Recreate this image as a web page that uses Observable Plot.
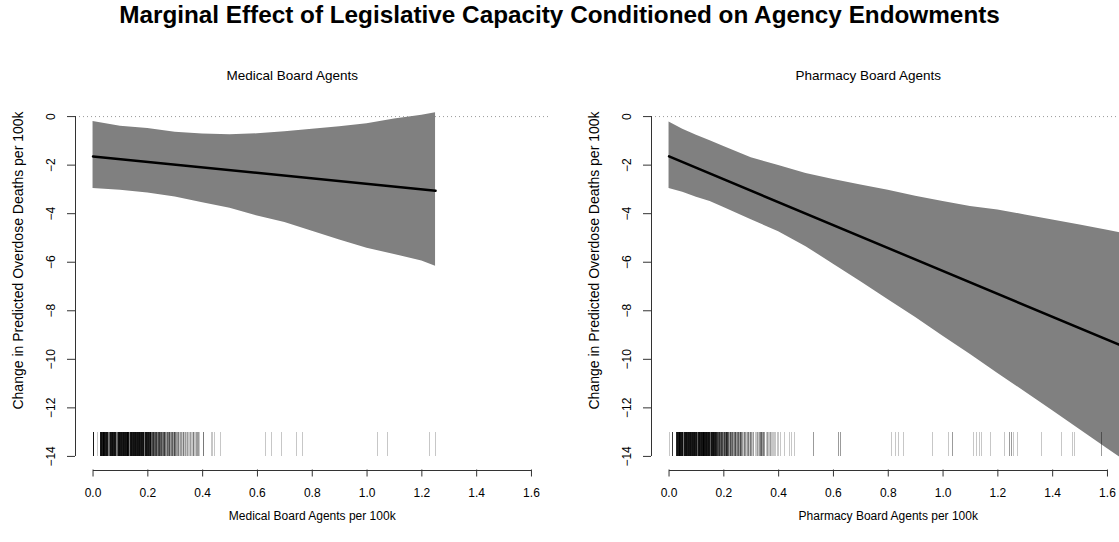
<!DOCTYPE html>
<html>
<head>
<meta charset="utf-8">
<script src="https://cdn.jsdelivr.net/npm/d3@7"></script>
<script src="https://cdn.jsdelivr.net/npm/@observablehq/plot@0.6"></script>
<style>
  html, body { margin: 0; padding: 0; width: 1119px; height: 542px; overflow: hidden; background: white; }
  #title { position: absolute; left: 0; top: 0; width: 1119px; height: 40px; text-align: center;
           font: bold 24.3px "Liberation Sans", Arial, sans-serif; line-height: 30px; color: black; white-space: nowrap; }
  .panel { position: absolute; top: 40px; width: 576px; height: 502px; }
  .panel svg { max-width: none !important; }
</style>
</head>
<body>
<div id="title"></div>
<div id="left" class="panel" style="left:0px"></div>
<div id="right" class="panel" style="left:576px"></div>
<script>
// ---------- text ----------
const mainTitle = "Marginal Effect of Legislative Capacity Conditioned on Agency Endowments";
const panelTitles = ["Medical Board Agents", "Pharmacy Board Agents"];
const xLabels = ["Medical Board Agents per 100k", "Pharmacy Board Agents per 100k"];
const yLabel = "Change in Predicted Overdose Deaths per 100k";

// ---------- ticks ----------
const xTicks = [0, 0.2, 0.4, 0.6, 0.8, 1.0, 1.2, 1.4, 1.6];
const yTicks = [0, -2, -4, -6, -8, -10, -12, -14];
const xDomain = [-0.064, 1.664];
const yDomain = [-14.56, 0.56];
const rugRange = [-13, -14];

// ---------- Medical board: confidence band and estimate ----------
const medX  = [0, 0.1, 0.2, 0.3, 0.4, 0.5, 0.6, 0.7, 0.8, 0.9, 1.0, 1.1, 1.2, 1.25];
const medHi = [-0.20, -0.40, -0.49, -0.64, -0.72, -0.75, -0.71, -0.62, -0.52, -0.42, -0.30, -0.10, 0.06, 0.16];
const medLo = [-2.96, -3.03, -3.15, -3.31, -3.55, -3.78, -4.10, -4.36, -4.72, -5.08, -5.42, -5.68, -5.95, -6.17];
const medLineX = [0, 1.25];
const medLineY = [-1.64, -3.06];

// ---------- Pharmacy board: confidence band and estimate ----------
const phX  = [0, 0.05, 0.1, 0.15, 0.2, 0.3, 0.4, 0.5, 0.6, 0.7, 0.8, 0.9, 1.0, 1.1, 1.2, 1.3, 1.4, 1.5, 1.6, 1.664];
const phHi = [-0.22, -0.52, -0.77, -1.00, -1.23, -1.70, -2.02, -2.34, -2.59, -2.82, -3.03, -3.28, -3.50, -3.70, -3.85, -4.05, -4.26, -4.47, -4.68, -4.83];
const phLo = [-2.96, -3.12, -3.32, -3.50, -3.75, -4.25, -4.74, -5.36, -6.08, -6.80, -7.55, -8.28, -9.05, -9.80, -10.58, -11.35, -12.12, -12.90, -13.68, -14.18];
const phLineX = [0, 1.664];
const phLineY = [-1.64, -9.5];

// ---------- rug: [value, number of observations] ----------
const medRug = [
  [0,10],[0.015,1],
  [0.026,10],[0.0295,12],[0.033,9],[0.0365,11],[0.040,10],[0.0435,12],[0.047,9],[0.0505,11],[0.054,10],
  [0.0575,3],[0.061,4],[0.0645,11],[0.068,10],[0.0715,12],[0.075,9],[0.0785,11],[0.082,10],[0.0855,3],
  [0.089,4],[0.0925,11],[0.096,12],[0.0995,10],[0.103,11],[0.1065,9],[0.110,12],[0.1135,10],[0.117,11],
  [0.1205,10],[0.124,12],[0.1275,9],[0.131,11],[0.1345,3],[0.138,10],[0.1415,12],[0.145,9],[0.1485,11],
  [0.152,10],[0.1555,12],[0.159,9],[0.1625,11],[0.166,10],[0.1695,12],[0.173,9],[0.1765,11],[0.180,10],
  [0.1835,12],[0.187,3],[0.1905,10],[0.194,11],[0.1975,9],[0.201,10],[0.2045,8],[0.208,7],
  [0.2115,6],[0.215,4],[0.2185,5],[0.222,7],[0.2255,4],[0.229,5],[0.2325,6],[0.236,3],[0.2395,5],[0.243,6],
  [0.2465,4],[0.250,5],[0.2535,3],[0.257,4],[0.2605,6],[0.264,3],[0.2675,2],[0.271,4],[0.2745,3],[0.278,5],
  [0.2815,2],[0.285,3],[0.2885,4],[0.292,2],[0.2955,3],[0.299,2],[0.3025,3],[0.306,2],[0.3095,2],[0.313,3],
  [0.3165,1],[0.320,2],[0.3235,2],[0.327,1],[0.3305,3],[0.334,1],[0.3375,2],[0.341,1],[0.3445,2],[0.348,1],
  [0.3515,1],[0.355,2],[0.3585,1],[0.362,1],[0.3655,3],[0.369,1],[0.3725,1],[0.376,2],[0.3795,1],[0.383,1],
  [0.3865,2],[0.390,1],
  [0.402,3],[0.432,1],[0.436,1],[0.445,1],[0.464,1],[0.631,1],[0.653,1],[0.688,1],[0.741,1],[0.764,1],
  [1.039,1],[1.076,1],[1.228,1],[1.249,1]
];
const phRug = [
  [0,1],[0.013,6],
  [0.026,8],[0.0295,11],[0.033,10],[0.0365,12],[0.040,9],[0.0435,11],[0.047,10],[0.0505,12],[0.054,3],
  [0.0575,10],[0.061,11],[0.0645,12],[0.068,9],[0.0715,11],[0.075,10],[0.0785,12],[0.082,9],[0.0855,11],
  [0.089,10],[0.0925,12],[0.096,9],[0.0995,11],[0.103,4],[0.1065,10],[0.110,12],[0.1135,9],[0.117,11],
  [0.1205,10],[0.124,12],[0.1275,9],[0.131,11],[0.1345,10],[0.138,12],[0.1415,9],[0.145,11],[0.1485,10],
  [0.152,4],[0.1555,11],[0.159,10],[0.1625,12],[0.166,9],[0.1695,10],[0.173,8],
  [0.1765,6],[0.180,5],[0.1835,7],[0.187,4],[0.1905,6],[0.194,5],[0.1975,3],[0.201,6],[0.2045,4],[0.208,5],
  [0.2115,3],[0.215,6],[0.2185,4],[0.222,2],[0.2255,5],[0.229,3],[0.2325,4],[0.236,2],[0.2395,3],[0.243,5],
  [0.2465,2],[0.250,3],[0.2535,4],[0.257,2],[0.2605,5],[0.264,3],[0.2675,2],[0.271,1],[0.2745,3],[0.278,2],
  [0.2815,1],[0.285,2],[0.2885,3],[0.292,1],[0.2955,2],
  [0.299,1],[0.3025,2],[0.306,1],[0.310,2],[0.314,1],[0.318,1],[0.322,2],[0.326,1],[0.330,2],[0.334,3],
  [0.338,4],[0.342,2],[0.346,3],[0.350,2],[0.354,1],[0.358,2],[0.362,1],[0.366,1],[0.370,2],[0.374,1],
  [0.378,1],[0.382,1],[0.386,1],[0.390,1],[0.395,1],[0.400,1],[0.405,1],
  [0.423,1],[0.438,1],[0.448,1],[0.458,1],[0.527,2],[0.618,2],[0.624,2],
  [0.813,1],[0.825,1],[0.837,1],[0.855,1],[0.963,1],[1.021,1],[1.033,2],
  [1.11,1],[1.122,1],[1.134,1],[1.141,1],[1.173,1],[1.226,1],[1.244,2],[1.25,2],[1.257,1],[1.27,1],
  [1.36,1],[1.434,1],[1.472,1],[1.478,1],[1.579,2]
];

document.getElementById("title").textContent = mainTitle;

const fmtX = d3.format(".1f");
const fmtY = d => d3.format("d")(d);
const FONT = "'Liberation Sans', Arial, sans-serif";

function panel(title, xLabel, bx, bhi, blo, lx, ly, rug) {
  const band = bx.map((x, i) => ({x, hi: bhi[i], lo: blo[i]}));
  const line = lx.map((x, i) => ({x, y: ly[i]}));
  return Plot.plot({
    width: 576,
    height: 502,
    marginLeft: 75,
    marginRight: 27.5,
    marginTop: 62.5,
    marginBottom: 72.5,
    style: {fontFamily: FONT, fontSize: "12px", background: "white", color: "black", maxWidth: "none"},
    x: {domain: xDomain},
    y: {domain: yDomain},
    marks: [
      Plot.ruleY([0], {stroke: "#9a9a9a", strokeDasharray: "1,3", strokeWidth: 1}),
      Plot.areaY(band, {x: "x", y1: "lo", y2: "hi", fill: "#808080", clip: "frame"}),
      Plot.line(line, {x: "x", y: "y", stroke: "black", strokeWidth: 2.5, clip: "frame"}),
      Plot.ruleX(rug, {x: d => d[0], y1: rugRange[0], y2: rugRange[1], stroke: "black",
        strokeOpacity: d => 1 - Math.pow(0.78, d[1]), strokeWidth: 1, shapeRendering: "crispEdges"}),
      // x axis
      Plot.ruleY([yDomain[0]], {x1: xTicks[0], x2: xTicks[xTicks.length - 1], stroke: "#333", shapeRendering: "crispEdges"}),
      Plot.axisX({ticks: xTicks, tickSize: 7, tickPadding: 11, tickFormat: fmtX, fontSize: 12, label: null, stroke: "#333"}),
      // y axis
      Plot.ruleX([xDomain[0]], {y1: yTicks[0], y2: yTicks[yTicks.length - 1], stroke: "#333", shapeRendering: "crispEdges"}),
      Plot.axisY({ticks: yTicks, tickSize: 8, tickFormat: () => "", label: null, stroke: "#333"}),
      Plot.text(yTicks, {y: d => d, text: d => fmtY(d), frameAnchor: "left", textAnchor: "middle", lineAnchor: "middle", rotate: -90, dx: -24, fontSize: 12}),
      // labels
      Plot.text([xLabel], {text: d => d, frameAnchor: "bottom", textAnchor: "middle", lineAnchor: "middle", dy: 46.5, fontSize: 12}),
      Plot.text([yLabel], {text: d => d, frameAnchor: "left", textAnchor: "middle", lineAnchor: "middle", rotate: -90, dx: -57, dy: -26, fontSize: 14}),
      Plot.text([title], {text: d => d, frameAnchor: "top", textAnchor: "middle", lineAnchor: "middle", dx: -20, dy: -27.5, fontSize: 13.5})
    ]
  });
}

document.getElementById("left").appendChild(
  panel(panelTitles[0], xLabels[0], medX, medHi, medLo, medLineX, medLineY, medRug));
document.getElementById("right").appendChild(
  panel(panelTitles[1], xLabels[1], phX, phHi, phLo, phLineX, phLineY, phRug));
</script>
</body>
</html>
